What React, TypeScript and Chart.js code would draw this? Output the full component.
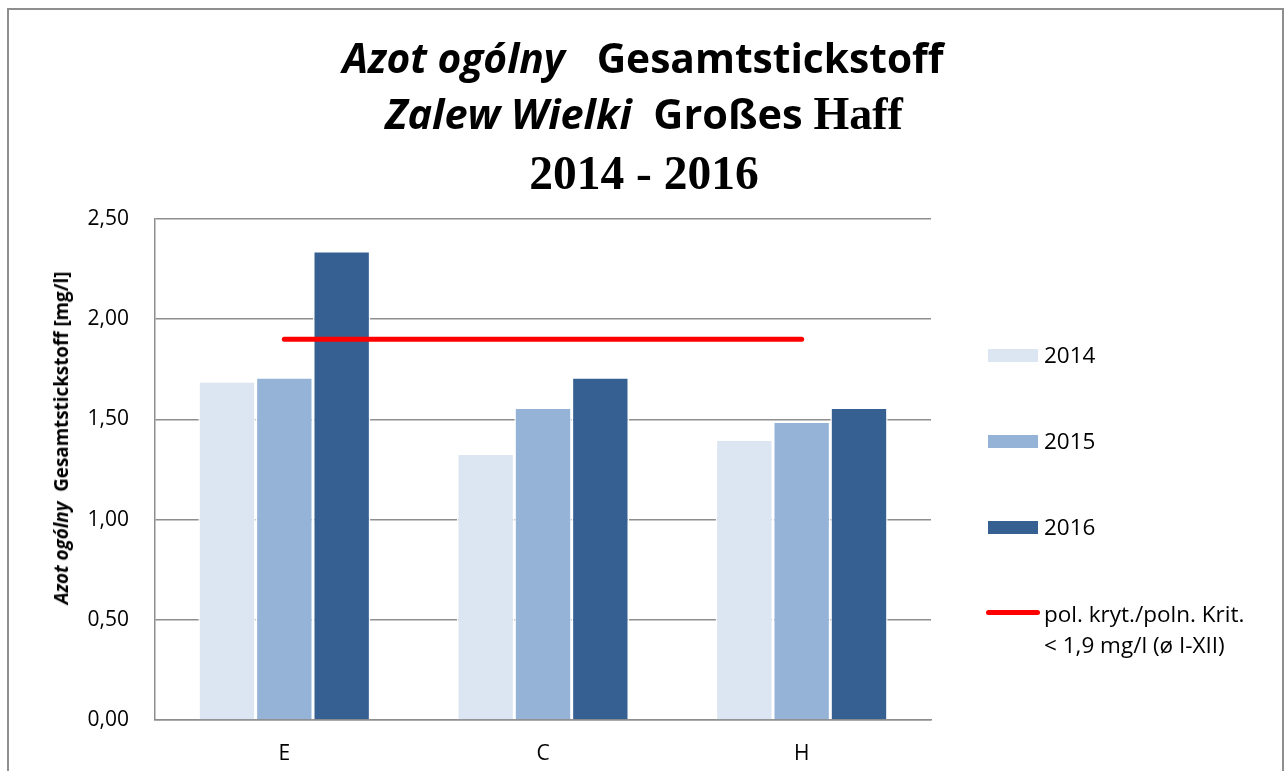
import React, { useEffect, useRef } from "react";
import { Chart, registerables } from "chart.js";

Chart.register(...registerables);

const categories = ["E", "C", "H"];
const series2014 = [1.69, 1.33, 1.4];
const series2015 = [1.71, 1.56, 1.49];
const series2016 = [2.34, 1.71, 1.56];
const criterion = [1.9, 1.9, 1.9];
const yTicks = [0, 0.5, 1, 1.5, 2, 2.5];
const seriesLabels = ["2014", "2015", "2016"];
const criterionLabel = ["pol. kryt./poln. Krit.", "< 1,9 mg/l (ø I-XII)"];

const colors = ["#DCE6F2", "#95B3D7", "#366092"];
const RED = "#FF0000";
const GRID = "#8e8e8e";
const SANS = "'Open Sans', 'DejaVu Sans', sans-serif";
const SERIF = "'Liberation Serif', 'DejaVu Serif', serif";

export default function App() {
  const ref = useRef<HTMLCanvasElement | null>(null);

  useEffect(() => {
    if (!ref.current) return;
    const barDs = (i: number, data: number[]) => ({
      type: "bar" as const,
      label: seriesLabels[i],
      data,
      backgroundColor: colors[i],
      borderColor: "#ffffff",
      borderWidth: 1.5,
      categoryPercentage: 0.665,
      barPercentage: 1,
      order: 2,
    });
    const chart = new Chart(ref.current, {
      type: "bar",
      data: {
        labels: categories,
        datasets: [
          barDs(0, series2014),
          barDs(1, series2015),
          barDs(2, series2016),
          {
            type: "line" as const,
            label: criterionLabel.join(" "),
            data: criterion,
            borderColor: RED,
            backgroundColor: RED,
            borderWidth: 5,
            borderCapStyle: "round",
            pointRadius: 0,
            fill: false,
            order: 0,
          } as any,
        ],
      },
      options: {
        responsive: false,
        animation: false,
        layout: { padding: { left: 35, top: 219, right: 354, bottom: 0 } },
        plugins: {
          legend: { display: false },
          title: { display: false },
          tooltip: { enabled: false },
        },
        scales: {
          x: {
            offset: true,
            grid: { display: false, drawTicks: false },
            border: { display: true, color: GRID, width: 1.5 },
            ticks: {
              padding: 21,
              color: "#000",
              font: { family: SANS, size: 21 },
            },
            afterFit: (s: any) => {
              s.height = 51;
            },
          },
          y: {
            min: 0,
            max: 2.5,
            afterBuildTicks: (s: any) => {
              s.ticks = yTicks.map((v) => ({ value: v }));
            },
            grid: { color: GRID, lineWidth: 1.5, drawTicks: false },
            border: { display: true, color: GRID, width: 1.5 },
            ticks: {
              padding: 26,
              color: "#000",
              font: { family: SANS, size: 21 },
              callback: (v: any) => Number(v).toFixed(2).replace(".", ","),
            },
            afterFit: (s: any) => {
              s.width = 120;
            },
          },
        },
      },
    });
    return () => chart.destroy();
  }, []);

  const italicBold: React.CSSProperties = { fontStyle: "italic", fontWeight: 700, fontFamily: SANS };
  const bold: React.CSSProperties = { fontWeight: 700, fontFamily: SANS };

  const legendRow = (top: number, color: string, text: string) => (
    <div style={{ position: "absolute", left: 988, top: top - 15, height: 30, display: "flex", alignItems: "center" }}>
      <div style={{ width: 50, height: 13, background: color }} />
      <span style={{ marginLeft: 6, fontFamily: SANS, fontSize: 22.5, color: "#000", lineHeight: "30px" }}>{text}</span>
    </div>
  );

  return (
    <div style={{ position: "relative", width: 1285, height: 771, overflow: "hidden", background: "#fff" }}>
      <style>{`html,body{margin:0;padding:0;overflow:hidden;background:#fff}`}</style>
      <div
        style={{
          position: "absolute",
          left: 7,
          top: 8,
          width: 1273,
          height: 800,
          border: "2px solid #8e8e8e",
          boxSizing: "content-box",
        }}
      />
      <canvas ref={ref} width={1285} height={771} style={{ position: "absolute", left: 0, top: 0 }} />

      {/* Title */}
      <div style={{ position: "absolute", left: 0, width: 1286, top: 37, textAlign: "center", fontSize: 40.7, lineHeight: "40px", whiteSpace: "pre", color: "#000" }}>
        <span style={italicBold}>Azot ogólny</span>
        <span style={bold}>{"   "}Gesamtstickstoff</span>
      </div>
      <div style={{ position: "absolute", left: 0, width: 1288, top: 93, textAlign: "center", fontSize: 41.5, lineHeight: "40px", whiteSpace: "pre", color: "#000" }}>
        <span style={italicBold}>Zalew Wielki</span>
        <span style={bold}>{"  "}Großes </span>
        <span style={{ fontFamily: SERIF, fontWeight: 700, fontSize: 46 }}>Haff</span>
      </div>
      <div style={{ position: "absolute", left: 0, width: 1288, top: 150, textAlign: "center", fontFamily: SERIF, fontWeight: 700, fontSize: 47.5, lineHeight: "46px", color: "#000" }}>
        2014 - 2016
      </div>

      {/* Y axis title */}
      <div
        style={{
          position: "absolute",
          left: 61,
          top: 438,
          transform: "translate(-50%, -50%) rotate(-90deg) scaleX(0.94)",
          whiteSpace: "pre",
          fontSize: 20,
          lineHeight: "24px",
          color: "#000",
        }}
      >
        <span style={italicBold}>Azot ogólny</span>
        <span style={bold}>{"  "}Gesamtstickstoff [mg/l]</span>
      </div>

      {/* Legend */}
      {legendRow(355, colors[0], seriesLabels[0])}
      {legendRow(441, colors[1], seriesLabels[1])}
      {legendRow(527, colors[2], seriesLabels[2])}
      <div style={{ position: "absolute", left: 986, top: 610, width: 54, height: 5, background: RED, borderRadius: 3 }} />
      <div style={{ position: "absolute", left: 1044, top: 598, fontFamily: SANS, fontSize: 22.5, lineHeight: "31px", color: "#000", whiteSpace: "pre" }}>
        {criterionLabel[0]}
        {"\n"}
        {criterionLabel[1]}
      </div>
    </div>
  );
}
